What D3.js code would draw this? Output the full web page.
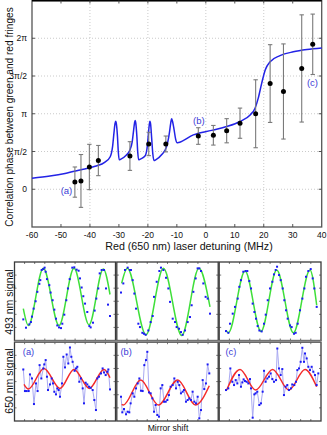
<!DOCTYPE html>
<html>
<head>
<meta charset="utf-8">
<script src="https://cdn.jsdelivr.net/npm/d3@7"></script>
<style>
body { margin: 0; background: #fff; }
text { font-family: "Liberation Sans", Arial, sans-serif; }
</style>
</head>
<body>
<svg width="327" height="435"></svg>
<script>
// ---- top chart data: correlation phase (units of pi) vs red detuning (MHz)
const detuning = [-45.2, -43.1, -40.2, -37.1, -26.2, -19.7, -13.8, -2.6, 2.6, 7.2, 11.8, 17.2, 22.2, 26.8, 33.1, 36.9];
const phase    = [0.095, 0.11, 0.295, 0.38, 0.44, 0.60, 0.60, 0.705, 0.715, 0.775, 0.875, 1.0, 1.40, 1.295, 1.60, 1.92];
const phaseErr = [0.20, 0.35, 0.30, 0.20, 0.19, 0.155, 0.105, 0.11, 0.13, 0.16, 0.20, 0.45, 0.515, 0.63, 0.71, 0.40];

// theory curve
const theoryDetuning = [-60, -53.8, -48.6, -43.4, -38.2, -34.8, -33.0, -32.2, -31.7, -31.35, -31.1, -30.85, -30.5, -30.2, -29.9, -29.3,
  -27.5, -26.2, -25.4, -24.9, -24.6, -24.4, -24.15, -23.8, -23.5, -23.2, -22.6,
  -21.0, -20.3, -19.8, -19.5, -19.3, -19.05, -18.7, -18.3, -17.9, -17.3,
  -15.2, -13.5, -12.6, -12.1, -11.8, -11.5, -11.0, -10.4, -9.9, -9.3,
  -4.3, 2, 7.2, 11.8, 15.3, 17.0, 18.1, 19.3, 20.5, 22.2, 25.6, 30.2, 34.9, 40];
const theoryPhase = [0.146, 0.176, 0.21, 0.256, 0.305, 0.36, 0.43, 0.56, 0.75, 0.87, 0.90, 0.86, 0.70, 0.49, 0.39, 0.40,
  0.45, 0.52, 0.63, 0.79, 0.88, 0.91, 0.87, 0.70, 0.49, 0.39, 0.40,
  0.44, 0.54, 0.74, 0.86, 0.90, 0.86, 0.68, 0.47, 0.38, 0.39,
  0.46, 0.57, 0.74, 0.88, 0.935, 0.90, 0.80, 0.66, 0.615, 0.62,
  0.72, 0.78, 0.83, 0.897, 0.985, 1.074, 1.207, 1.406, 1.58, 1.69, 1.77, 1.82, 1.85, 1.87];

const xTicks = [-60, -50, -40, -30, -20, -10, 0, 10, 20, 30, 40];
const xGrid = [-40, -20, 0, 20];
const yTicks = [0, 0.5, 1, 1.5, 2];
const yTickLabels = ["0", "\u03c0/2", "\u03c0", "3\u03c0/2", "2\u03c0"];

// ---- bottom panels: [mirror shift, signal] (arbitrary units)
const sig493a = [[0,26.9],[3.1,16.3],[6.9,20.5],[8.8,23.5],[10,30.4],[11.9,40.6],[14.2,50],[16.2,62],[18.5,72.2],[19.6,76.9],[21.2,89.8],[23.1,91],[24.6,92.8],[25.8,87.6],[27.3,78.2],[30,70.5],[31.5,61.1],[33.8,51.3],[35.8,39.3],[37.7,27.8],[39.2,19.2],[41.2,16.7],[43.5,15.8],[45,21.4],[47.3,32.9],[49.6,51.3],[51.5,66.3],[53.5,78.2],[56.5,92.8],[58.8,93.2],[61.5,90.2],[63.8,88.9],[65.4,79.1],[67.3,67.5],[69.2,56.4],[71.2,47],[73.8,36.3],[76.2,18.4],[77.7,16.7],[80.4,22.7],[82.3,38.1],[84.2,53.4],[86.5,66.3],[88.1,85.5],[90.4,89.8],[93.1,89.8],[95.4,66.3],[97.7,45.7],[100,31.2]];
const sig493b = [[0,61.1],[2.6,72.7],[4.5,89.8],[7.5,92.8],[10.1,89.8],[11.2,89.8],[13.1,76.9],[15,59.8],[16.9,40.6],[19.5,21.4],[21.3,17.1],[24,9.8],[25.8,8.6],[27.7,7.3],[30.7,12.8],[33.3,23.5],[35.6,31.2],[37.1,55.6],[40.1,74.8],[43.1,88.5],[44.9,92.8],[47.6,89.8],[50.6,79.9],[53.2,66.3],[55.1,49.2],[58.1,27.8],[60.7,23.5],[62.5,17.1],[65.2,15],[67.4,10.7],[69.3,7.3],[71.9,12.8],[74.9,23.5],[77.5,29.9],[79.4,44.9],[81.3,62],[83.9,79.1],[86.1,91.9],[88,91.9],[89.9,88.5],[92.5,72.7],[95.1,55.6],[97.4,53.4],[100,34.2]];
const sig493c = [[0,12],[2.6,9.8],[4.4,21.4],[7.4,34.2],[9.9,42.8],[12.9,53.4],[14.7,68.4],[16.5,76.9],[19.1,87.6],[21.7,88.5],[23.5,88.5],[25.7,75.7],[27.6,66.3],[29.4,47],[31.3,36.3],[33.1,27.8],[34.9,18.4],[36.8,12.8],[39.3,11.6],[41.9,21.4],[43.8,32.9],[46,51.3],[48.5,66.3],[51.1,74.8],[52.9,84.2],[54.8,89.8],[56.3,94],[58.5,83.4],[60.3,76.9],[62.5,66.3],[64.3,51.3],[66.2,38.5],[68,27.8],[70.6,19.2],[72.4,17.1],[75,8.6],[76.8,9.8],[79,21.4],[81.6,38.5],[84.2,53.4],[86.4,66.3],[88.2,81.2],[90.8,88.5],[93.4,91],[95.6,79.1],[97.4,66.3],[100,42.8]];

const sig650a = [[0,65.4],[1.9,38],[3.8,38],[6.2,38],[7.7,59.1],[10,54],[12.3,21.5],[14.6,47.7],[16.5,38],[18.8,70.9],[20.8,54],[23.1,66.7],[24.2,71.8],[25.8,77.3],[27.3,56.2],[28.5,39.3],[30.8,46.4],[32.7,54],[34.2,47.7],[35.8,37.1],[37.7,33.8],[39.2,41.4],[40.8,39.3],[42.3,30.8],[44.6,47.7],[46.2,81.5],[48.1,68],[50,84.4],[51.9,73],[53.8,93.3],[55.4,81.5],[56.9,75.1],[59.2,63.7],[60.8,66.7],[62.3,68.8],[64.6,49.8],[66.5,54],[68.5,41.4],[70,22.4],[71.9,48.6],[73.8,46.4],[75.8,43.5],[77.7,42.2],[80,39.3],[81.9,26.6],[83.8,13.9],[85.4,54],[87.3,56.2],[89.6,60.4],[91.5,66.7],[93.1,61.6],[95,58.3],[96.9,62.5],[98.1,65.4],[100,40.1]];
const sig650b = [[0,30.8],[1.5,11],[3.4,15.2],[5.7,8.5],[7.5,11.8],[9.4,11],[10.9,22.4],[13.2,35.1],[15.1,30.8],[17,41.4],[18.9,47.7],[20.8,54],[22.6,38.4],[24.5,38],[26.4,70.9],[28.3,77.3],[29.8,87.8],[31.7,36.3],[33.6,35.1],[35.5,28.7],[37.4,11.8],[39.2,20.3],[41.1,7.6],[43,5.5],[44.9,41.4],[46.8,45.6],[48.7,24.5],[50.6,24.5],[52.5,26.6],[54.3,32.9],[56.2,43.5],[58.5,45.6],[60.4,54],[62.3,41.4],[64.2,49.8],[66,45.6],[67.9,35.1],[69.8,37.2],[71.3,39.3],[73.6,24.5],[75.5,26.6],[77.4,28.7],[79.2,26.6],[81.1,37.2],[83,24.5],[84.9,22.4],[86.8,30.8],[88.7,3.4],[90.6,13.9],[92.5,51.9],[94.3,40.5],[96.2,47.7],[98.1,71.8],[100,60.4]];
const sig650c = [[0,39.3],[2.5,41.4],[4.7,66.7],[6.9,49.8],[8.7,45.6],[10.5,51.9],[12.3,47.7],[14.1,58.3],[16.2,43.5],[17.7,49],[19.1,52.8],[20.6,50.7],[22.4,49.8],[24.2,47.7],[26,53.2],[27.1,41.4],[28.9,4.2],[30.7,33.8],[32.1,35.1],[33.9,37.2],[36.1,20.3],[37.9,22.4],[39.7,37.2],[41.2,63.7],[42.9,49.8],[44.8,54],[46.6,56.2],[48.4,60.4],[50.2,53.2],[52,49.8],[54.2,51.9],[55.6,92],[57.4,66.7],[59.2,58.3],[61,65.9],[62.8,32.9],[64.6,43.5],[66.4,45.6],[68.2,39.3],[70.4,41.4],[71.8,46.4],[74,45.6],[75.8,49.8],[77.3,64.6],[79.1,66.7],[80.9,75.1],[82.7,92.9],[84.5,75.1],[85.6,85.7],[87.4,79.4],[89.2,68.8],[91,64.6],[92.8,68.8],[94.6,62.5],[96.4,58.3],[98.2,45.6],[100,60.4]];

// sinusoidal fits, read at their extrema
const fit493a = [[0,40.6],[5.8,19.2],[23.1,91.9],[41.2,19.2],[58.5,91.9],[75.8,20.1],[92.3,91],[100,58.6]];
const fit493b = [[0.7,72.7],[7.1,91.9],[28.1,7.3],[47.6,91.9],[68.2,6.4],[87.6,91.9],[100,42.8]];
const fit493c = [[0,12.8],[2.6,9.8],[21,88.5],[38.6,11.6],[55.9,89.8],[74.3,9.8],[92.6,89.8],[100,44.9]];
const fit650a = [[0.8,46.4],[5.8,40.5],[23.8,66.7],[42.3,41.4],[58.5,65.4],[76.2,41.4],[93.1,65.4],[100,54.9]];
const fit650b = [[0.75,21.1],[2.6,20.3],[22.3,51.9],[42.3,20.3],[64.2,51.9],[84.5,20.3],[100,44.8]];
const fit650c = [[0.7,39.3],[15.2,65.4],[32.1,39.3],[50.5,65.4],[68.2,39.3],[85.6,65.4],[98.2,43.5]];

const panelLabels = ["(a)", "(b)", "(c)"];

const svg = d3.select("svg");
const blue = "#2323e6";
const labelBlue = "#3b3bd6";

// ================= top chart =================
const x = d3.scaleLinear().domain([-60, 40]).range([32, 321.7]);
const y = d3.scaleLinear().domain([-0.5, 2.5]).range([227, 0.5]);

const topG = svg.append("g");

// grid
topG.selectAll(".hgrid").data(yTicks).enter().append("line")
    .attr("x1", x(-60)).attr("x2", x(40))
    .attr("y1", d => y(d)).attr("y2", d => y(d))
    .attr("stroke", "#bdbdbd").attr("stroke-width", 0.8).attr("stroke-dasharray", "1,2");
topG.selectAll(".vgrid").data(xGrid).enter().append("line")
    .attr("x1", d => x(d)).attr("x2", d => x(d))
    .attr("y1", y(-0.5)).attr("y2", y(2.5))
    .attr("stroke", "#bdbdbd").attr("stroke-width", 0.8).attr("stroke-dasharray", "1,2");

// frame
topG.append("rect")
    .attr("x", x(-60)).attr("y", y(2.5))
    .attr("width", x(40) - x(-60)).attr("height", y(-0.5) - y(2.5))
    .attr("fill", "none").attr("stroke", "#555").attr("stroke-width", 1.3);
topG.append("line")
    .attr("x1", x(-60)).attr("x2", x(40)).attr("y1", 0.8).attr("y2", 0.8)
    .attr("stroke", "#000").attr("stroke-width", 1.6);

// ticks (inward, all sides)
topG.selectAll(".xt").data(xTicks.slice(1, -1)).enter().append("path")
    .attr("d", d => `M${x(d)},${y(-0.5)}v-3M${x(d)},${y(2.5)}v3`)
    .attr("stroke", "#444").attr("stroke-width", 0.9);
topG.selectAll(".yt").data(yTicks).enter().append("path")
    .attr("d", d => `M${x(-60)},${y(d)}h3M${x(40)},${y(d)}h-3`)
    .attr("stroke", "#444").attr("stroke-width", 0.9);

// tick labels
topG.selectAll(".xl").data(xTicks).enter().append("text")
    .attr("x", d => x(d)).attr("y", 237.5)
    .attr("text-anchor", "middle").attr("font-size", 8.5).attr("fill", "#111")
    .text(d => d);
topG.selectAll(".yl").data(yTicks).enter().append("text")
    .attr("x", 27).attr("y", d => y(d) + 3)
    .attr("text-anchor", "end").attr("font-size", 8.5).attr("fill", "#111")
    .text((d, i) => yTickLabels[i]);

// axis titles
topG.append("text")
    .attr("x", 189).attr("y", 250.4)
    .attr("text-anchor", "middle").attr("font-size", 10.7).attr("fill", "#111")
    .text("Red (650 nm) laser detuning (MHz)");
topG.append("text")
    .attr("transform", "translate(12.5,117) rotate(-90)")
    .attr("text-anchor", "middle").attr("font-size", 10.1).attr("fill", "#111")
    .text("Correlation phase between green and red fringes");

// theory curve
const theory = theoryDetuning.map((d, i) => [d, theoryPhase[i]]);
topG.append("path")
    .datum(theory)
    .attr("fill", "none").attr("stroke", blue).attr("stroke-width", 1.5)
    .attr("d", d3.line().x(d => x(d[0])).y(d => y(d[1])).curve(d3.curveMonotoneX));

// error bars + points
const pts = detuning.map((d, i) => ({ d: d, p: phase[i], e: phaseErr[i] }));
const eb = topG.selectAll(".eb").data(pts).enter().append("g").attr("stroke", "#7a7a7a").attr("stroke-width", 1.1);
eb.append("line").attr("x1", d => x(d.d)).attr("x2", d => x(d.d))
    .attr("y1", d => y(d.p - d.e)).attr("y2", d => y(d.p + d.e));
eb.append("line").attr("x1", d => x(d.d) - 2.2).attr("x2", d => x(d.d) + 2.2)
    .attr("y1", d => y(d.p - d.e)).attr("y2", d => y(d.p - d.e));
eb.append("line").attr("x1", d => x(d.d) - 2.2).attr("x2", d => x(d.d) + 2.2)
    .attr("y1", d => y(d.p + d.e)).attr("y2", d => y(d.p + d.e));
topG.selectAll(".pt").data(pts).enter().append("circle")
    .attr("cx", d => x(d.d)).attr("cy", d => y(d.p)).attr("r", 2.5).attr("fill", "#000");

// (a) (b) (c) annotations
const topLabelPos = [[-48.1, -0.066], [-2.4, 0.86], [36.8, 1.37]];
topG.selectAll(".tl").data(panelLabels).enter().append("text")
    .attr("x", (d, i) => x(topLabelPos[i][0])).attr("y", (d, i) => y(topLabelPos[i][1]))
    .attr("text-anchor", "middle").attr("font-size", 9.5).attr("fill", labelBlue)
    .text(d => d);

// ================= bottom panels =================
const colFrames = [[14.5, 115.5], [116.8, 218.2], [219.2, 321]];
const rowFrames = [[262, 340.5], [342.2, 421]];
const panels = [
    { data: sig493a, fit: fit493a, row: 0, col: 0, xr: [23.3, 110], color: "#3fdf3a" },
    { data: sig493b, fit: fit493b, row: 0, col: 1, xr: [121, 210], color: "#3fdf3a" },
    { data: sig493c, fit: fit493c, row: 0, col: 2, xr: [226, 316.7], color: "#3fdf3a" },
    { data: sig650a, fit: fit650a, row: 1, col: 0, xr: [23.3, 110], color: "#f42a2a", join: true },
    { data: sig650b, fit: fit650b, row: 1, col: 1, xr: [121, 209.3], color: "#f42a2a", join: true },
    { data: sig650c, fit: fit650c, row: 1, col: 2, xr: [226, 318.3], color: "#f42a2a", join: true }
];

panels.forEach(p => {
    const fx = colFrames[p.col], fy = rowFrames[p.row];
    const px = d3.scaleLinear().domain([0, 100]).range(p.xr);
    const py = d3.scaleLinear().domain([0, 100]).range([fy[1], fy[0]]);
    const g = svg.append("g");

    // frame ticks
    const tx = d3.scaleLinear().domain([0, 10]).range(fx);
    const ty = d3.scaleLinear().domain([0, 6]).range([fy[1], fy[0]]);
    g.selectAll(".ft").data(d3.range(1, 10)).enter().append("path")
        .attr("d", d => `M${tx(d)},${fy[1]}v-2M${tx(d)},${fy[0]}v2`)
        .attr("stroke", "#555").attr("stroke-width", 0.8);
    g.selectAll(".fty").data(d3.range(1, 6)).enter().append("path")
        .attr("d", d => `M${fx[0]},${ty(d)}h2M${fx[1]},${ty(d)}h-2`)
        .attr("stroke", "#555").attr("stroke-width", 0.8);

    if (p.join) {
        g.append("path").datum(p.data)
            .attr("fill", "none").attr("stroke", "#a9a9f2").attr("stroke-width", 1)
            .attr("d", d3.line().x(d => px(d[0])).y(d => py(d[1])));
    }
    g.append("path").datum(p.fit)
        .attr("fill", "none").attr("stroke", p.color).attr("stroke-width", 1.5)
        .attr("d", d3.line().x(d => px(d[0])).y(d => py(d[1])).curve(d3.curveMonotoneX));
    g.selectAll(".sq").data(p.data).enter().append("rect")
        .attr("x", d => px(d[0]) - 1).attr("y", d => py(d[1]) - 1)
        .attr("width", 2).attr("height", 2).attr("fill", "#1b1bf5");

    g.append("rect")
        .attr("x", fx[0]).attr("y", fy[0]).attr("width", fx[1] - fx[0]).attr("height", fy[1] - fy[0])
        .attr("fill", "none").attr("stroke", "#3a3a3a").attr("stroke-width", 1.3);

    if (p.row === 1) {
        g.append("text")
            .attr("x", p.xr[0] - 0.5).attr("y", fy[0] + 12.8)
            .attr("font-size", 9.3).attr("fill", labelBlue)
            .text(panelLabels[p.col]);
    }
});

// separator band between rows
svg.append("rect")
    .attr("x", colFrames[0][0]).attr("y", rowFrames[0][1] - 0.2)
    .attr("width", colFrames[2][1] - colFrames[0][0]).attr("height", rowFrames[1][0] - rowFrames[0][1] + 0.4)
    .attr("fill", "#8a8a8a");

svg.append("text")
    .attr("transform", "translate(12.8,302) rotate(-90)")
    .attr("text-anchor", "middle").attr("font-size", 10.5).attr("fill", "#111")
    .text("493 nm signal");
svg.append("text")
    .attr("transform", "translate(12.8,381) rotate(-90)")
    .attr("text-anchor", "middle").attr("font-size", 10.5).attr("fill", "#111")
    .text("650 nm signal");
svg.append("text")
    .attr("x", 168).attr("y", 431.3)
    .attr("text-anchor", "middle").attr("font-size", 8.6).attr("fill", "#111")
    .text("Mirror shift");
</script>
</body>
</html>
